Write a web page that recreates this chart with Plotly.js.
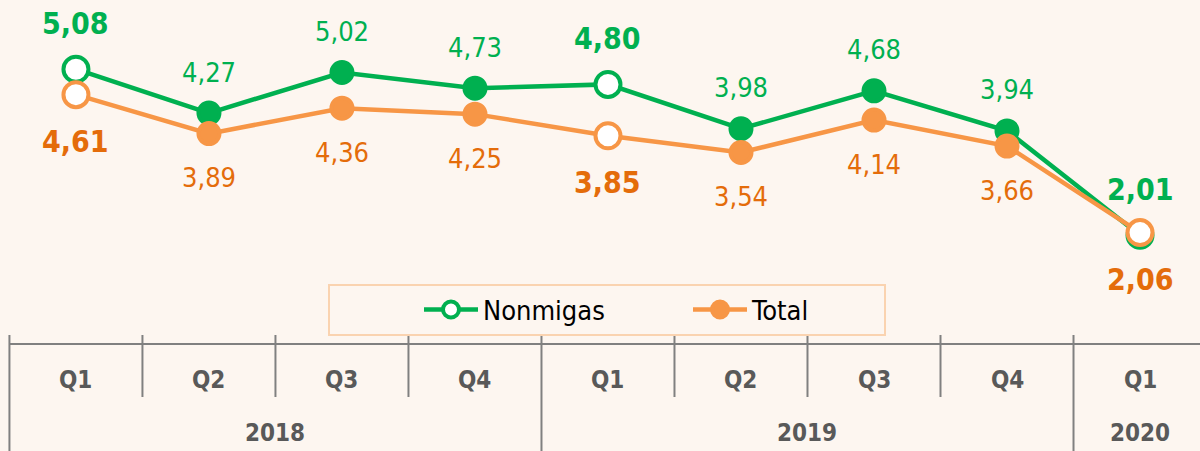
<!DOCTYPE html>
<html><head><meta charset="utf-8">
<script src="https://cdn.plot.ly/plotly-3.0.1.min.js"></script>
<style>html,body{margin:0;padding:0;background:#FDF6F0;} #chart{width:1200px;height:451px;}</style>
</head><body><div id="chart"></div>
<script>
// ---- data ----
const quarters = ['Q1','Q2','Q3','Q4','Q1','Q2','Q3','Q4','Q1'];
const yearLabels = ['2018','2019','2020'];
const yearStart = [0, 4, 8];   // index of first quarter of each year
const yearCount = [4, 4, 1];
const nonmigas = [5.08, 4.27, 5.02, 4.73, 4.80, 3.98, 4.68, 3.94, 2.01];
const total    = [4.61, 3.89, 4.36, 4.25, 3.85, 3.54, 4.14, 3.66, 2.06];
const highlight = [true, false, false, false, true, false, false, false, true];

// ---- style ----
const FONT = '"DejaVu Sans Condensed", "Liberation Sans Narrow", "Arial Narrow", sans-serif';
const GREEN = '#00B050', ORANGE = '#F79646', ORANGE_TXT = '#E46C0A';
const AXIS = '#808080', AXTXT = '#595959', BG = '#FDF6F0';
const PLOT_H = 344;            // px height of plot area
const py = p => 1 - p / PLOT_H; // pixel (from top) -> paper y

const idx = quarters.map((q, i) => i);
const fmt = v => v.toFixed(2).replace('.', ',');

const traces = [
  {
    name: 'Nonmigas', x: idx, y: nonmigas, mode: 'lines+markers',
    line: {color: GREEN, width: 4.5},
    marker: {
      size: highlight.map(h => h ? 25 : 21), opacity: 1,
      color: highlight.map(h => h ? '#FFFFFF' : GREEN),
      line: {color: GREEN, width: 4}
    },
    cliponaxis: false
  },
  {
    name: 'Total', x: idx, y: total, mode: 'lines+markers',
    line: {color: ORANGE, width: 4.5},
    marker: {size: 21, opacity: 1, color: ORANGE, line: {color: ORANGE, width: 4}},
    cliponaxis: false
  },
  {
    name: 'Total', showlegend: false, hoverinfo: 'skip',
    x: idx.filter(i => highlight[i]), y: total.filter((v, i) => highlight[i]),
    mode: 'markers',
    marker: {size: 25, opacity: 1, color: '#FFFFFF', line: {color: ORANGE, width: 4}},
    cliponaxis: false
  }
];

const annotations = [];
nonmigas.forEach((v, i) => annotations.push({
  xref: 'x', yref: 'y', x: i, y: v, text: fmt(v), showarrow: false,
  yanchor: 'middle', yshift: highlight[i] ? 46 : 41,
  font: {family: FONT, size: highlight[i] ? 30 : 27, color: GREEN, weight: highlight[i] ? 'bold' : 'normal'}
}));
total.forEach((v, i) => annotations.push({
  xref: 'x', yref: 'y', x: i, y: v, text: fmt(v), showarrow: false,
  yanchor: 'middle', yshift: highlight[i] ? -47 : -44,
  font: {family: FONT, size: highlight[i] ? 30 : 27, color: ORANGE_TXT, weight: highlight[i] ? 'bold' : 'normal'}
}));
quarters.forEach((q, i) => annotations.push({
  xref: 'x', yref: 'paper', x: i, y: py(380), text: q, showarrow: false, yanchor: 'middle',
  font: {family: FONT, size: 24, color: AXTXT, weight: 'bold'}
}));
yearLabels.forEach((yl, k) => annotations.push({
  xref: 'x', yref: 'paper', x: yearStart[k] + (yearCount[k] - 1) / 2, y: py(433), text: yl,
  showarrow: false, yanchor: 'middle',
  font: {family: FONT, size: 24, color: AXTXT, weight: 'bold'}
}));

const shapes = [];
// axis line
shapes.push({type: 'line', xref: 'x', yref: 'paper', x0: -0.5, x1: 9, y0: 0, y1: 0,
  line: {color: AXIS, width: 2}});
// quarter dividers
quarters.forEach((q, i) => {
  const isYear = yearStart.includes(i);
  shapes.push({type: 'line', xref: 'x', yref: 'paper', x0: i - 0.5, x1: i - 0.5,
    y0: py(335), y1: isYear ? py(460) : py(397), line: {color: AXIS, width: 2}});
});
// legend frame
shapes.push({type: 'rect', xref: 'paper', yref: 'paper', x0: 329/1200, x1: 885/1200,
  y0: py(335), y1: py(285), line: {color: '#FAD3B0', width: 2}, fillcolor: 'rgba(0,0,0,0)'});

const layout = {
  width: 1200, height: 451,
  margin: {l: 0, r: 0, t: 0, b: 451 - PLOT_H},
  paper_bgcolor: BG, plot_bgcolor: BG,
  xaxis: {range: [-0.571, 8.451], visible: false, showgrid: false, zeroline: false, fixedrange: true},
  yaxis: {range: [0, 6.36], visible: false, showgrid: false, zeroline: false, fixedrange: true},
  showlegend: true,
  legend: {
    orientation: 'h', x: 419/1200, xanchor: 'left', y: py(310), yanchor: 'middle',
    bgcolor: 'rgba(0,0,0,0)', borderwidth: 0, entrywidth: 200, itemwidth: 54,
    font: {family: FONT, size: 27, color: '#000000'}
  },
  annotations: annotations,
  shapes: shapes,
  hovermode: false
};

Plotly.newPlot('chart', traces, layout, {displayModeBar: false, staticPlot: true});
</script>
</body></html>
